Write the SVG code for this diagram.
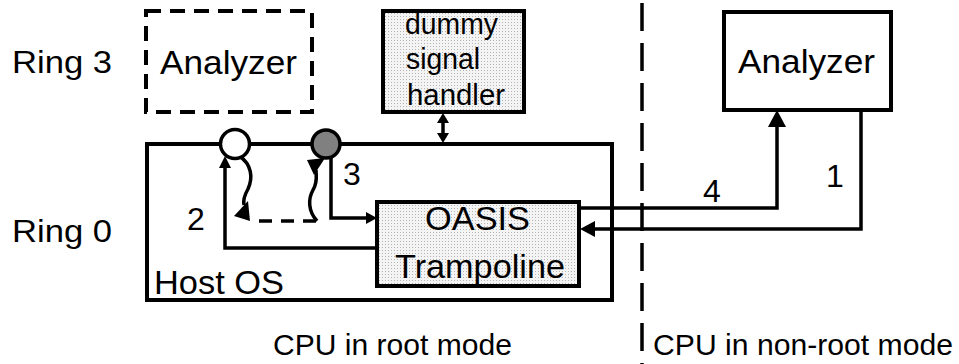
<svg xmlns="http://www.w3.org/2000/svg" width="959" height="364" viewBox="0 0 959 364">
  <defs>
    <pattern id="dots" width="3" height="3" patternUnits="userSpaceOnUse">
      <rect width="3" height="3" fill="#f4f4f4"/>
      <rect x="1" y="1" width="1" height="1" fill="#b4b4b4"/>
    </pattern>
  </defs>
  <style>
    text { font-family: "Liberation Sans", Arial, sans-serif; fill: #000; }
    .box { fill: #fff; stroke: #000; stroke-width: 4; }
    .shaded { fill: url(#dots); stroke: #000; stroke-width: 4; }
    .dashedbox { fill: none; stroke: #000; stroke-width: 4; stroke-dasharray: 15 9; }
    .line { fill: none; stroke: #000; stroke-width: 3.5; }
    .head { fill: #000; stroke: none; }
    .big { font-size: 34px; }
    .mid { font-size: 30px; }
    .ring { font-size: 31px; }
  </style>
  <rect width="959" height="364" fill="#fff"/>

  <g id="divider">
    <line x1="642" y1="3" x2="642" y2="364" stroke="#000" stroke-width="3.5" stroke-dasharray="28 12"/>
  </g>

  <g id="labels">
    <text x="12" y="73" class="ring" textLength="100" lengthAdjust="spacingAndGlyphs">Ring 3</text>
    <text x="12" y="242" class="ring" textLength="100" lengthAdjust="spacingAndGlyphs">Ring 0</text>
    <text x="273" y="355" font-size="30" textLength="239" lengthAdjust="spacingAndGlyphs">CPU in root mode</text>
    <text x="653" y="355" font-size="30" textLength="300" lengthAdjust="spacingAndGlyphs">CPU in non-root mode</text>
  </g>

  <g id="hostos">
    <rect x="147" y="144" width="465" height="156" class="box"/>
    <text x="154" y="294" class="big" textLength="130" lengthAdjust="spacingAndGlyphs">Host OS</text>
  </g>

  <g id="analyzer-ring3">
    <rect x="146" y="11" width="166" height="101" class="dashedbox"/>
    <text x="160" y="74" class="big" textLength="137" lengthAdjust="spacingAndGlyphs">Analyzer</text>
  </g>

  <g id="dummy-signal-handler">
    <rect x="383" y="11" width="141" height="101" class="shaded"/>
    <text x="405" y="34" class="mid" textLength="93" lengthAdjust="spacingAndGlyphs">dummy</text>
    <text x="406" y="69" class="mid" textLength="74" lengthAdjust="spacingAndGlyphs">signal</text>
    <text x="407" y="105" class="mid" textLength="98" lengthAdjust="spacingAndGlyphs">handler</text>
  </g>

  <g id="oasis-trampoline">
    <rect x="377" y="202" width="202" height="84" class="shaded"/>
    <text x="425" y="230" class="big" textLength="105" lengthAdjust="spacingAndGlyphs">OASIS</text>
    <text x="395" y="278" class="big" textLength="170" lengthAdjust="spacingAndGlyphs">Trampoline</text>
  </g>

  <g id="analyzer-nonroot">
    <rect x="724" y="12" width="167" height="98" class="box"/>
    <text x="738" y="73" class="big" textLength="137" lengthAdjust="spacingAndGlyphs">Analyzer</text>
  </g>

  <g id="connectors">
    <line x1="443" y1="120" x2="443" y2="136" class="line"/>
    <polygon points="443,113 437,123 449,123" class="head"/>
    <polygon points="443,143 437,133 449,133" class="head"/>

    <path d="M377,248 H225 V165" class="line"/>
    <polygon points="225,156 219,168 231,168" class="head"/>

    <path d="M331,158 V218 H368" class="line"/>
    <polygon points="377,218 366,212 366,224" class="head"/>

    <path d="M239,156 C252,164 253,178 248,189 C244,196 243,200 244,205" class="line"/>
    <polygon points="234,216 248,201 250,221" class="head"/>

    <line x1="259" y1="221" x2="320" y2="221" stroke="#000" stroke-width="3.5" stroke-dasharray="13 9"/>

    <path d="M317,221 C308,211 308,199 313,190 C318,182 316,176 316,170" class="line"/>
    <polygon points="307,160 325,158 314,175" class="head"/>

    <path d="M579,208 H777 V125" class="line"/>
    <polygon points="777,110 768,127 786,127" class="head"/>

    <path d="M861,110 V229 H593" class="line"/>
    <polygon points="580,229 595,221 595,237" class="head"/>
  </g>

  <g id="step-labels">
    <text x="187" y="230" font-size="32">2</text>
    <text x="343" y="185" font-size="32">3</text>
    <text x="703" y="202" font-size="32">4</text>
    <text x="826" y="187" font-size="32">1</text>
  </g>

  <g id="circles">
    <circle cx="235" cy="144" r="14.5" fill="#fff" stroke="#000" stroke-width="3.5"/>
    <circle cx="326" cy="144" r="14" fill="#808080" stroke="#000" stroke-width="3.5"/>
  </g>
</svg>
